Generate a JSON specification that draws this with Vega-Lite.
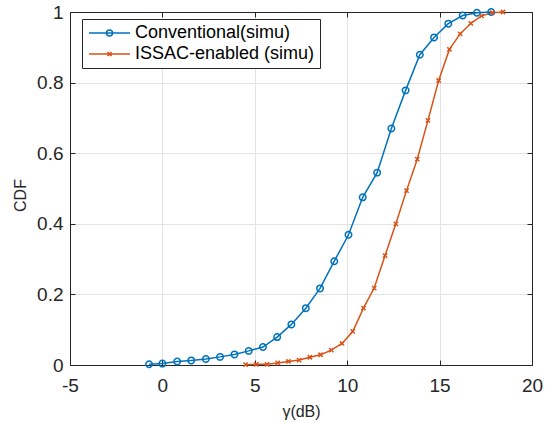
{
  "$schema": "https://vega.github.io/schema/vega-lite/v6.json",
  "width": 462,
  "height": 353,
  "autosize": {"type": "none"},
  "padding": {"left": 70, "top": 12, "right": 25, "bottom": 58},
  "background": "white",
  "config": {
    "font": "Liberation Sans",
    "view": {"stroke": null},
    "axis": {
      "domainColor": "#262626",
      "tickColor": "#262626",
      "labelColor": "#262626",
      "titleColor": "#262626",
      "labelFont": "Liberation Sans",
      "titleFont": "Liberation Sans",
      "labelFontSize": 19,
      "titleFontSize": 16,
      "titleFontWeight": "normal",
      "gridColor": "#e3e3e3",
      "gridWidth": 1,
      "tickSize": -5,
      "domainWidth": 1,
      "labelFlush": false
    }
  },
  "resolve": {"axis": {"x": "independent", "y": "independent"}},
  "data": {
    "values": [
      {"s": "Conventional(simu)", "g": -0.72, "cdf": 0.002},
      {"s": "Conventional(simu)", "g": 0.0, "cdf": 0.004},
      {"s": "Conventional(simu)", "g": 0.8, "cdf": 0.01},
      {"s": "Conventional(simu)", "g": 1.56, "cdf": 0.013},
      {"s": "Conventional(simu)", "g": 2.35, "cdf": 0.017},
      {"s": "Conventional(simu)", "g": 3.12, "cdf": 0.023},
      {"s": "Conventional(simu)", "g": 3.9, "cdf": 0.03},
      {"s": "Conventional(simu)", "g": 4.67, "cdf": 0.04},
      {"s": "Conventional(simu)", "g": 5.44, "cdf": 0.051},
      {"s": "Conventional(simu)", "g": 6.21, "cdf": 0.079},
      {"s": "Conventional(simu)", "g": 6.98, "cdf": 0.115},
      {"s": "Conventional(simu)", "g": 7.76, "cdf": 0.161},
      {"s": "Conventional(simu)", "g": 8.53, "cdf": 0.217},
      {"s": "Conventional(simu)", "g": 9.3, "cdf": 0.294},
      {"s": "Conventional(simu)", "g": 10.07, "cdf": 0.369},
      {"s": "Conventional(simu)", "g": 10.84, "cdf": 0.475},
      {"s": "Conventional(simu)", "g": 11.62, "cdf": 0.545},
      {"s": "Conventional(simu)", "g": 12.39, "cdf": 0.67},
      {"s": "Conventional(simu)", "g": 13.16, "cdf": 0.778},
      {"s": "Conventional(simu)", "g": 13.93, "cdf": 0.879},
      {"s": "Conventional(simu)", "g": 14.7, "cdf": 0.928},
      {"s": "Conventional(simu)", "g": 15.47, "cdf": 0.967},
      {"s": "Conventional(simu)", "g": 16.25, "cdf": 0.99},
      {"s": "Conventional(simu)", "g": 17.02, "cdf": 0.998},
      {"s": "Conventional(simu)", "g": 17.79, "cdf": 1.0},
      {"s": "ISSAC-enabled (simu)", "g": 4.5, "cdf": 0.001},
      {"s": "ISSAC-enabled (simu)", "g": 5.08, "cdf": 0.002},
      {"s": "ISSAC-enabled (simu)", "g": 5.66, "cdf": 0.002},
      {"s": "ISSAC-enabled (simu)", "g": 6.24, "cdf": 0.006},
      {"s": "ISSAC-enabled (simu)", "g": 6.82, "cdf": 0.01},
      {"s": "ISSAC-enabled (simu)", "g": 7.4, "cdf": 0.014},
      {"s": "ISSAC-enabled (simu)", "g": 7.98, "cdf": 0.022},
      {"s": "ISSAC-enabled (simu)", "g": 8.56, "cdf": 0.029},
      {"s": "ISSAC-enabled (simu)", "g": 9.14, "cdf": 0.042},
      {"s": "ISSAC-enabled (simu)", "g": 9.72, "cdf": 0.061},
      {"s": "ISSAC-enabled (simu)", "g": 10.3, "cdf": 0.095},
      {"s": "ISSAC-enabled (simu)", "g": 10.88, "cdf": 0.161},
      {"s": "ISSAC-enabled (simu)", "g": 11.46, "cdf": 0.218},
      {"s": "ISSAC-enabled (simu)", "g": 12.05, "cdf": 0.31},
      {"s": "ISSAC-enabled (simu)", "g": 12.63, "cdf": 0.4},
      {"s": "ISSAC-enabled (simu)", "g": 13.21, "cdf": 0.494},
      {"s": "ISSAC-enabled (simu)", "g": 13.79, "cdf": 0.583},
      {"s": "ISSAC-enabled (simu)", "g": 14.37, "cdf": 0.693},
      {"s": "ISSAC-enabled (simu)", "g": 14.95, "cdf": 0.806},
      {"s": "ISSAC-enabled (simu)", "g": 15.53, "cdf": 0.894},
      {"s": "ISSAC-enabled (simu)", "g": 16.11, "cdf": 0.938},
      {"s": "ISSAC-enabled (simu)", "g": 16.69, "cdf": 0.968},
      {"s": "ISSAC-enabled (simu)", "g": 17.27, "cdf": 0.989},
      {"s": "ISSAC-enabled (simu)", "g": 17.85, "cdf": 0.998},
      {"s": "ISSAC-enabled (simu)", "g": 18.43, "cdf": 1.0}
    ]
  },
  "layer": [
    {
      "mark": {"type": "line", "strokeWidth": 1.5},
      "encoding": {
        "x": {
          "field": "g", "type": "quantitative",
          "scale": {"domain": [-5, 20], "nice": false, "zero": false},
          "axis": {
            "orient": "bottom", "title": "γ(dB)", "values": [-5, 0, 5, 10, 15, 20],
            "labelExpr": "datum.value < 0 ? '-' + abs(datum.value) : '' + datum.value",
            "labelPadding": 16, "titlePadding": 8, "grid": true
          }
        },
        "y": {
          "field": "cdf", "type": "quantitative",
          "scale": {"domain": [0, 1], "nice": false},
          "axis": {
            "orient": "left", "title": "CDF", "values": [0, 0.2, 0.4, 0.6, 0.8, 1],
            "format": "~g", "labelPadding": 12, "titlePadding": 8, "titleY": 183, "grid": true
          }
        },
        "color": {
          "field": "s", "type": "nominal",
          "scale": {"domain": ["Conventional(simu)", "ISSAC-enabled (simu)"], "range": ["#0072BD", "#D95319"]},
          "legend": {
            "title": null,
            "orient": "none",
            "legendX": 12,
            "legendY": 7,
            "fillColor": "white",
            "strokeColor": "#262626",
            "padding": 5,
            "symbolSize": 196,
            "symbolStrokeWidth": 1.5,
            "labelFontSize": 18,
            "labelLimit": 400,
            "labelColor": "black",
            "labelFont": "Liberation Sans",
            "labelOffset": 30,
            "rowPadding": 3,
            "cornerRadius": 0,
            "encode": {
              "symbols": {
                "update": {
                  "shape": {"signal": "datum.value === 'Conventional(simu)' ? 'M-1,0L4.86,0M1.5,0A0.43,0.43 0 1,1 2.36,0A0.43,0.43 0 1,1 1.5,0' : 'M-1,0L4.86,0M1.64,-0.29L2.22,0.29M1.64,0.29L2.22,-0.29'"},
                  "fill": {"value": "transparent"},
                  "strokeWidth": {"value": 1.5}
                }
              }
            }
          }
        }
      }
    },
    {
      "transform": [{"filter": "datum.s === 'Conventional(simu)'"}],
      "mark": {"type": "point", "shape": "circle", "size": 42, "filled": false, "strokeWidth": 1.5, "opacity": 1},
      "encoding": {
        "x": {
          "field": "g", "type": "quantitative",
          "axis": {"orient": "top", "title": null, "labels": false, "grid": false, "values": [-5, 0, 5, 10, 15, 20]}
        },
        "y": {
          "field": "cdf", "type": "quantitative",
          "axis": {"orient": "right", "title": null, "labels": false, "grid": false, "values": [0, 0.2, 0.4, 0.6, 0.8, 1]}
        },
        "color": {"field": "s", "type": "nominal", "legend": null}
      }
    },
    {
      "transform": [{"filter": "datum.s === 'ISSAC-enabled (simu)'"}],
      "mark": {"type": "point", "shape": "M-1,-1L1,1M-1,1L1,-1", "size": 18, "filled": false, "strokeWidth": 1.5, "opacity": 1},
      "encoding": {
        "x": {"field": "g", "type": "quantitative", "axis": null},
        "y": {"field": "cdf", "type": "quantitative", "axis": null},
        "color": {"field": "s", "type": "nominal", "legend": null}
      }
    }
  ]
}
